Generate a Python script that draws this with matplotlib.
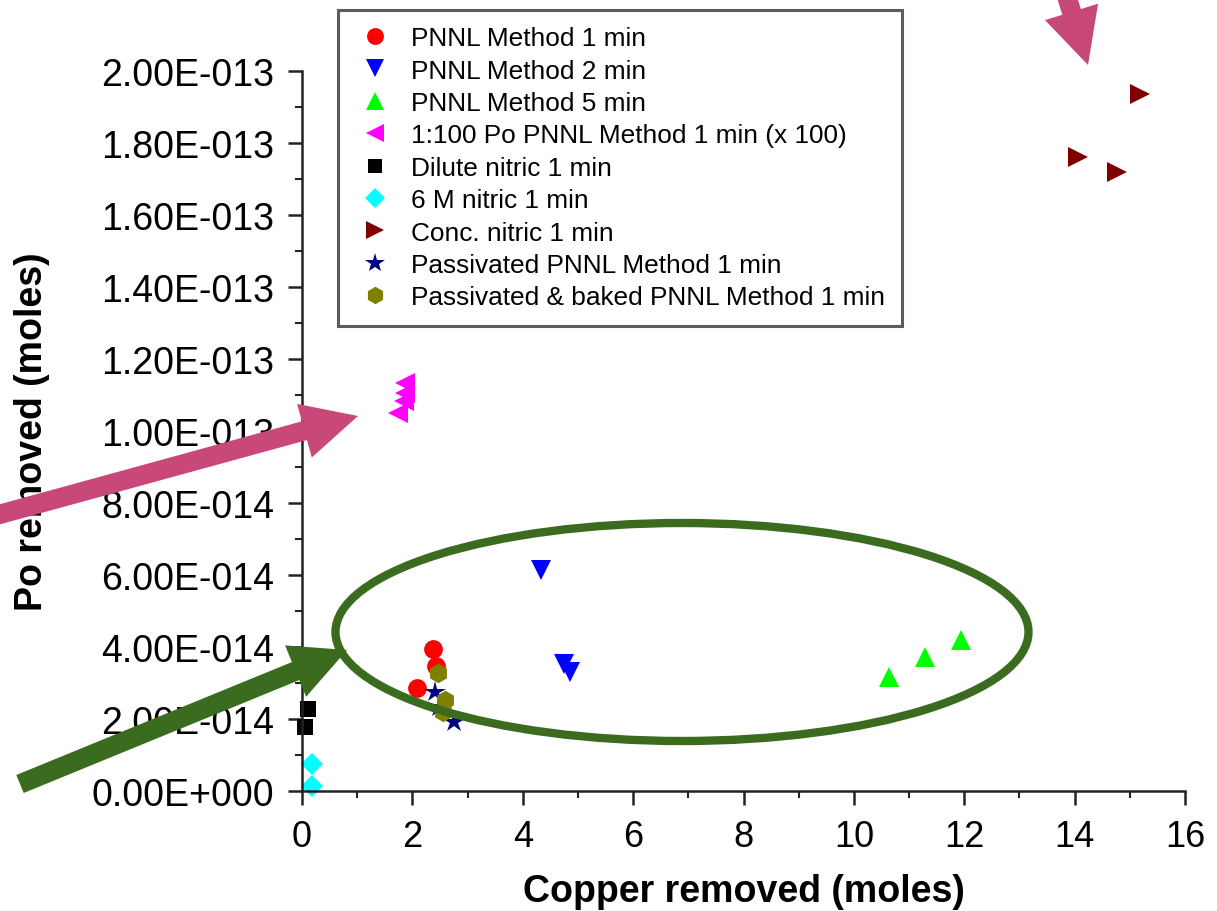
import matplotlib
matplotlib.use("Agg")
import matplotlib.pyplot as plt
from matplotlib.patches import Ellipse, FancyArrowPatch
from matplotlib.ticker import MultipleLocator, FuncFormatter

plt.rcParams['font.family'] = ['Liberation Sans', 'DejaVu Sans']

# data (x: moles Cu, y: moles Po)
pnnl1_x = [2.09, 2.38, 2.43]
pnnl1_y = [2.86e-14, 3.94e-14, 3.47e-14]
pnnl2_x = [4.33, 4.75, 4.85]
pnnl2_y = [6.15e-14, 3.53e-14, 3.30e-14]
pnnl5_x = [10.64, 11.29, 11.94]
pnnl5_y = [3.16e-14, 3.71e-14, 4.20e-14]
po100_x = [1.87, 1.87, 1.85, 1.74]
po100_y = [1.133e-13, 1.106e-13, 1.083e-13, 1.05e-13]
dilute_x = [0.11, 0.05]
dilute_y = [2.28e-14, 1.77e-14]
m6_x = [0.18, 0.18]
m6_y = [0.75e-14, 0.15e-14]
conc_x = [15.18, 14.07, 14.77]
conc_y = [1.936e-13, 1.76e-13, 1.72e-13]
pass_x = [2.41, 2.49, 2.76]
pass_y = [2.74e-14, 2.32e-14, 1.91e-14]
baked_x = [2.46, 2.60, 2.55]
baked_y = [3.27e-14, 2.53e-14, 2.19e-14]

series = [
    (pnnl1_x, pnnl1_y, 'o', '#ff0000', 13.5, "PNNL Method 1 min"),
    (pnnl2_x, pnnl2_y, 'v', '#0000ff', 15, "PNNL Method 2 min"),
    (pnnl5_x, pnnl5_y, '^', '#00ff00', 15, "PNNL Method 5 min"),
    (po100_x, po100_y, '<', '#ff00ff', 15, "1:100 Po PNNL Method 1 min (x 100)"),
    (dilute_x, dilute_y, 's', '#000000', 11.5, "Dilute nitric 1 min"),
    (m6_x, m6_y, 'D', '#00ffff', 11.5, "6 M nitric 1 min"),
    (conc_x, conc_y, '>', '#800000', 15, "Conc. nitric 1 min"),
    (pass_x, pass_y, '*', '#000080', 16, "Passivated PNNL Method 1 min"),
    (baked_x, baked_y, 'h', '#808000', 14, "Passivated & baked PNNL Method 1 min"),
]

W, H = 1217, 912
fig = plt.figure(figsize=(W / 100, H / 100), dpi=100)
ax = fig.add_axes([302 / W, 1 - 792 / H, (1185 - 302) / W, (792 - 72) / H])

handles = []
for x, y, m, c, ms, lab in series:
    h, = ax.plot(x, y, linestyle='none', marker=m, color=c, markersize=ms,
                 markeredgewidth=0, label=lab, clip_on=False)
    handles.append(h)

ax.set_xlim(0, 16)
ax.set_ylim(0, 2e-13)
ax.spines['top'].set_visible(False)
ax.spines['right'].set_visible(False)
for s in ('left', 'bottom'):
    ax.spines[s].set_linewidth(1.8)
    ax.spines[s].set_color('#222222')

ax.xaxis.set_major_locator(MultipleLocator(2))
ax.xaxis.set_minor_locator(MultipleLocator(1))
ax.yaxis.set_major_locator(MultipleLocator(2e-14))
ax.yaxis.set_minor_locator(MultipleLocator(1e-14))


def sci_fmt(v, pos):
    if v == 0:
        return "0.00E+000"
    s = "%.2E" % v
    mant, exp = s.split("E")
    e = int(exp)
    return "%sE%s%03d" % (mant, '-' if e < 0 else '+', abs(e))


ax.yaxis.set_major_formatter(FuncFormatter(sci_fmt))
ax.yaxis.get_offset_text().set_visible(False)
ax.tick_params(which='major', length=10, width=1.8, direction='out',
               color='#222222')
ax.tick_params(which='minor', length=5, width=1.5, direction='out', color='#222222')
ax.tick_params(axis='y', which='major', pad=10, labelsize=27)
ax.tick_params(axis='x', which='major', pad=10, labelsize=26)

ax.set_xlabel("Copper removed (moles)", fontsize=27, fontweight='bold', labelpad=14)
ax.set_ylabel("Po removed (moles)", fontsize=27, fontweight='bold', labelpad=30)

leg = fig.legend(handles=handles, loc='upper left',
                 bbox_to_anchor=(338 / W, 1 - 11 / H), bbox_transform=fig.transFigure,
                 fontsize=18.9, frameon=True, fancybox=False, shadow=False,
                 handlelength=1.6, handletextpad=0.57, labelspacing=0.32,
                 borderpad=0.62, borderaxespad=0, markerscale=0.9)
leg.get_frame().set_edgecolor('#333333')
leg.get_frame().set_linewidth(2.2)

# overlay annotations (figure pixel positions)
def fx(px):
    return px / W


def fy(py):
    return 1 - py / H


green = '#3b6b1e'
pink = '#c8487a'
ell = Ellipse((fx(682), fy(633)), 693 / W, 218 / H, transform=fig.transFigure,
              fill=False, edgecolor=green, linewidth=6, zorder=10)
fig.patches.append(ell)

arrows = [
    ((20, 785), (347, 651), green),
    ((-10, 518), (358, 417), pink),
    ((1066, -5), (1088, 66), pink),
]
for (x0, y0), (x1, y1), c in arrows:
    a = FancyArrowPatch((fx(x0), fy(y0)), (fx(x1), fy(y1)), transform=fig.transFigure,
                        arrowstyle='simple,head_length=4.0,head_width=4.0,tail_width=1.4',
                        mutation_scale=10, color=c, linewidth=0, zorder=11,
                        shrinkA=0, shrinkB=0)
    fig.patches.append(a)

fig.savefig("out.png", dpi=100)
